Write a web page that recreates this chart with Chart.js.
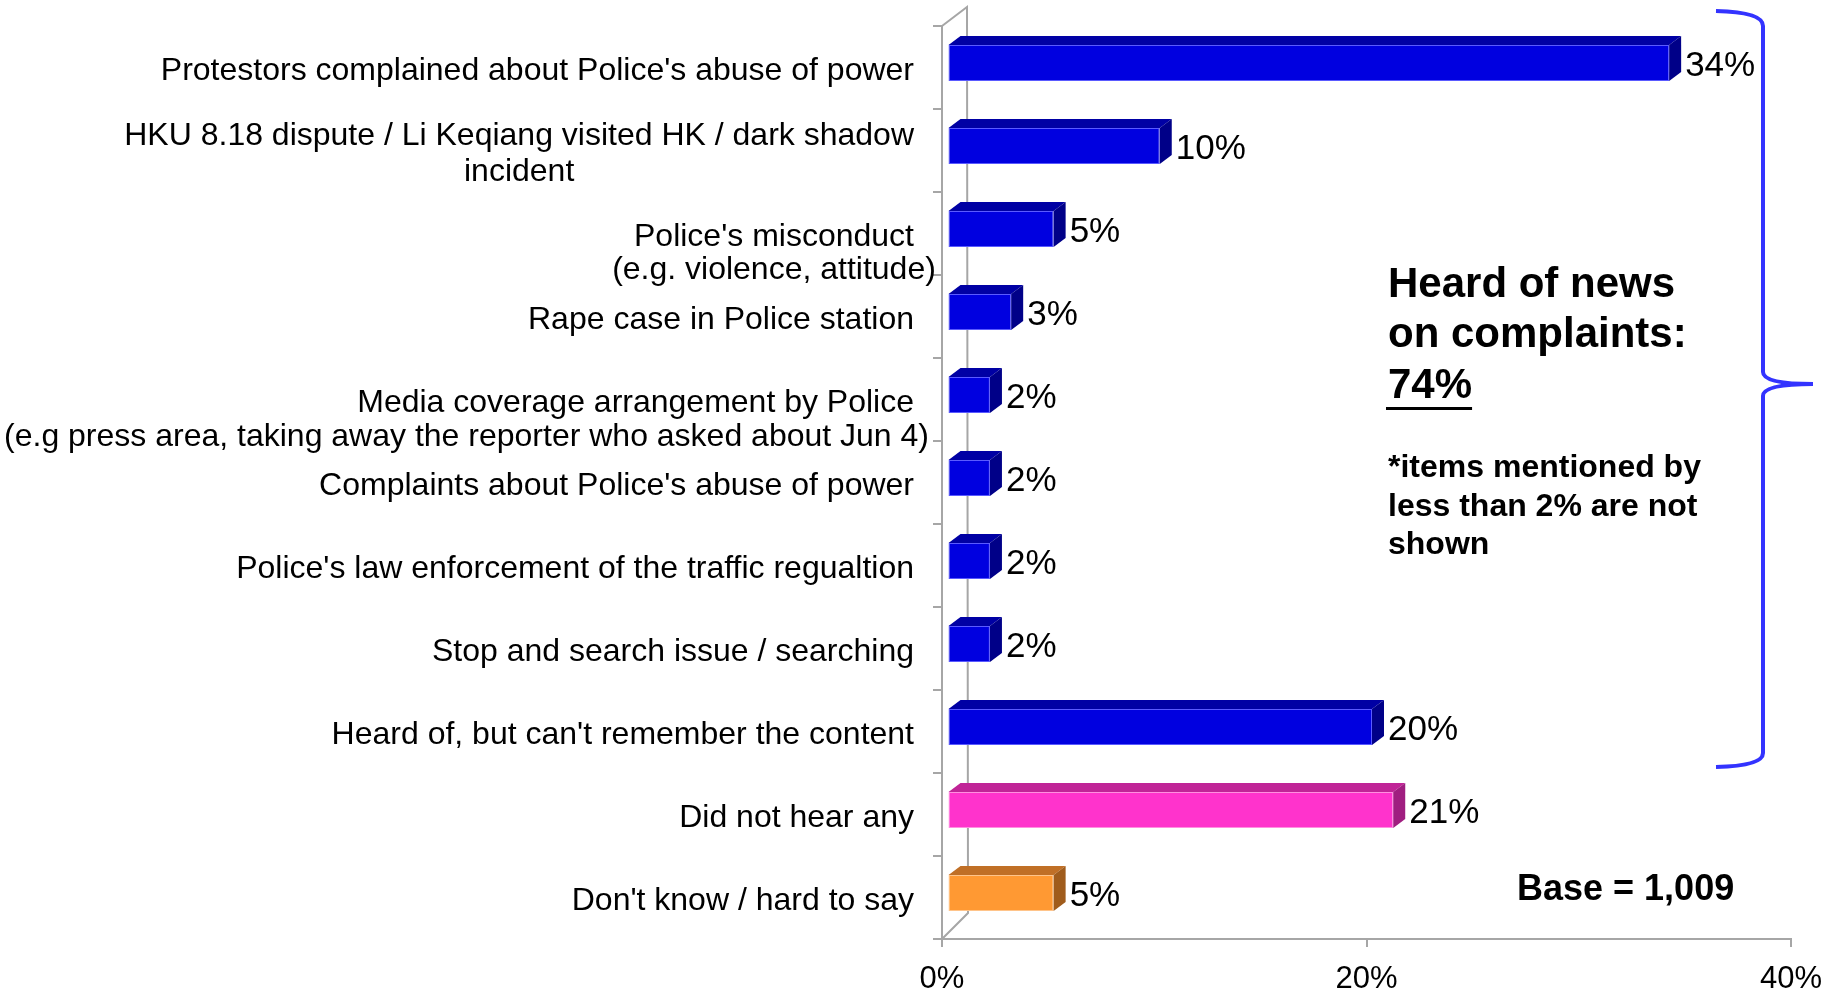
<!DOCTYPE html>
<html>
<head>
<meta charset="utf-8">
<script src="https://cdn.jsdelivr.net/npm/chart.js@4.4.1/dist/chart.umd.min.js"></script>
<style>
  html, body { margin: 0; padding: 0; background: #fff; }
  #wrap { width: 1837px; height: 991px; position: relative; }
</style>
</head>
<body>
<div id="wrap"><canvas id="canvas"></canvas></div>
<script>
const categories = [
    "Protestors complained about Police's abuse of power",
    "HKU 8.18 dispute / Li Keqiang visited HK / dark shadow",
    "Police's misconduct",
    "Rape case in Police station",
    "Media coverage arrangement by Police",
    "Complaints about Police's abuse of power",
    "Police's law enforcement of the traffic regualtion",
    "Stop and search issue / searching",
    "Heard of, but can't remember the content",
    "Did not hear any",
    "Don't know / hard to say"
];
// second lines of the long labels
const subLabels = {
    1: "incident",
    2: "(e.g. violence, attitude)",
    4: "(e.g press area, taking away the reporter who asked about Jun 4)"
};
const percentages = [34, 10, 5, 3, 2, 2, 2, 2, 20, 21, 5];
const answerGroups = ["heard", "heard", "heard", "heard", "heard", "heard", "heard", "heard", "heard", "none", "unsure"];
const xTicks = [0, 20, 40];

const summaryLines = ["Heard of news", "on complaints:"];
const summaryValue = "74%";
const footnoteLines = ["*items mentioned by", "less than 2% are not", "shown"];
const baseText = "Base = 1,009";

const family = "'Liberation Sans', Arial, Helvetica, sans-serif";
const palette = {
    heard:  {front: "#0000e0", top: "#0000a4", side: "#000088", edge: "#5a5aff"},
    none:   {front: "#ff33cc", top: "#c02497", side: "#a01e80", edge: "#ff8fe0"},
    unsure: {front: "#ff9933", top: "#c06f26", side: "#a05c1c", edge: "#ffc48a"}
};
const axisGrey = "#a6a6a6";

// 3D look: back wall depth, bar placement inside the depth, bar thickness
const wallDepth = {dx: 25, dy: -19};
const barShift = {dx: 5.5, dy: -4.5};
const barDepth = {dx: 12, dy: -9};

// layout of the two-line labels
const subLayout = {
    1: {lead: -18, gap: 36, align: "center", overhang: 0},
    2: {lead: 0, gap: 33, align: "center", overhang: 0},
    4: {lead: 0, gap: 34, align: "right", overhang: 15}
};

const frame3d = {
    id: "frame3d",
    beforeDatasetsDraw(chart) {
        const ctx = chart.ctx;
        const {left, top, bottom} = chart.chartArea;
        ctx.save();
        ctx.strokeStyle = axisGrey;
        ctx.lineWidth = 2;
        ctx.beginPath();
        ctx.moveTo(left, top);
        ctx.lineTo(left + wallDepth.dx, top + wallDepth.dy);
        ctx.lineTo(left + wallDepth.dx + 1, bottom - 26);
        ctx.lineTo(left, bottom);
        ctx.stroke();
        ctx.restore();
        // bars sit a little behind the front plane
        ctx.save();
        ctx.translate(barShift.dx, barShift.dy);
    },
    afterDatasetsDraw(chart) {
        const ctx = chart.ctx;
        const meta = chart.getDatasetMeta(0);
        meta.data.forEach((bar, i) => {
            const c = palette[answerGroups[i]];
            const x0 = bar.base, x1 = bar.x;
            const yt = bar.y - bar.height / 2, yb = bar.y + bar.height / 2;
            // top face
            ctx.fillStyle = c.top;
            ctx.beginPath();
            ctx.moveTo(x0, yt);
            ctx.lineTo(x0 + barDepth.dx, yt + barDepth.dy);
            ctx.lineTo(x1 + barDepth.dx, yt + barDepth.dy);
            ctx.lineTo(x1, yt);
            ctx.closePath();
            ctx.fill();
            // side face
            ctx.fillStyle = c.side;
            ctx.beginPath();
            ctx.moveTo(x1, yt);
            ctx.lineTo(x1 + barDepth.dx, yt + barDepth.dy);
            ctx.lineTo(x1 + barDepth.dx, yb + barDepth.dy);
            ctx.lineTo(x1, yb);
            ctx.closePath();
            ctx.fill();
        });
        ctx.restore();

        // value labels
        ctx.save();
        ctx.font = "35px " + family;
        ctx.fillStyle = "#000";
        ctx.textAlign = "left";
        ctx.textBaseline = "middle";
        meta.data.forEach((bar, i) => {
            ctx.fillText(percentages[i] + "%", bar.x + barShift.dx + barDepth.dx + 4, bar.y + barShift.dy + 3.5);
        });
        ctx.restore();
    }
};

const categoryLabels = {
    id: "categoryLabels",
    afterDraw(chart) {
        const ctx = chart.ctx;
        const yScale = chart.scales.y;
        const right = chart.chartArea.left - 28;
        ctx.save();
        ctx.font = "32px " + family;
        ctx.fillStyle = "#000";
        ctx.textBaseline = "middle";
        categories.forEach((text, i) => {
            const cy = yScale.getPixelForValue(i) + 3.5;
            const lay = subLayout[i];
            if (!lay) {
                ctx.textAlign = "right";
                ctx.fillText(text, right, cy);
                return;
            }
            const w = ctx.measureText(text).width;
            ctx.textAlign = "right";
            ctx.fillText(text, right, cy + lay.lead);
            if (lay.align === "center") {
                ctx.textAlign = "center";
                ctx.fillText(subLabels[i], right - w / 2 + lay.overhang, cy + lay.lead + lay.gap);
            } else {
                ctx.textAlign = "right";
                ctx.fillText(subLabels[i], right + lay.overhang, cy + lay.lead + lay.gap);
            }
        });
        ctx.restore();
    }
};

const annotations = {
    id: "annotations",
    afterDraw(chart) {
        const ctx = chart.ctx;
        ctx.save();
        ctx.fillStyle = "#000";
        ctx.textAlign = "left";
        ctx.textBaseline = "alphabetic";

        ctx.font = "bold 42px " + family;
        ctx.fillText(summaryLines[0], 1388, 297);
        ctx.fillText(summaryLines[1], 1388, 347);
        ctx.fillText(summaryValue, 1388, 398);
        const uw = ctx.measureText(summaryValue).width;
        ctx.fillRect(1386, 407, uw + 2, 3);

        ctx.font = "bold 32px " + family;
        footnoteLines.forEach((line, k) => ctx.fillText(line, 1388, 477 + k * 38.5));

        ctx.font = "bold 36px " + family;
        ctx.fillText(baseText, 1517, 900);

        // curly brace grouping the "heard of" answers
        ctx.strokeStyle = "#3333ff";
        ctx.lineWidth = 4;
        ctx.lineCap = "butt";
        ctx.beginPath();
        ctx.moveTo(1716, 11);
        ctx.quadraticCurveTo(1763, 12, 1763, 26);
        ctx.lineTo(1763, 372);
        ctx.quadraticCurveTo(1763, 384, 1813, 384);
        ctx.quadraticCurveTo(1763, 384, 1763, 396);
        ctx.lineTo(1763, 753);
        ctx.quadraticCurveTo(1763, 766, 1716, 767);
        ctx.stroke();
        ctx.restore();
    }
};

function dibujarGrafico() {
    const canvas = document.getElementById("canvas").getContext("2d");
    Chart.defaults.font.family = family;
    return new Chart(canvas, {
        type: "bar",
        data: {
            labels: categories,
            datasets: [{
                data: percentages,
                backgroundColor: answerGroups.map(g => palette[g].front),
                borderColor: answerGroups.map(g => palette[g].edge),
                borderWidth: 1,
                borderSkipped: false,
                categoryPercentage: 1,
                barPercentage: 0.434,
                clip: false
            }]
        },
        options: {
            indexAxis: "y",
            responsive: true,
            maintainAspectRatio: false,
            animation: false,
            devicePixelRatio: 1,
            layout: {padding: {top: 26, right: 46, left: 0, bottom: 0}},
            plugins: {
                legend: {display: false},
                tooltip: {enabled: false}
            },
            scales: {
                x: {
                    min: 0,
                    max: 40,
                    afterBuildTicks: s => { s.ticks = xTicks.map(v => ({value: v})); },
                    afterFit: s => { s.height = 52; },
                    grid: {drawOnChartArea: false, color: axisGrey, lineWidth: 2, tickLength: 8},
                    border: {color: axisGrey, width: 2},
                    ticks: {
                        color: "#000",
                        font: {size: 31},
                        padding: 14,
                        maxRotation: 0,
                        callback: v => v + "%"
                    }
                },
                y: {
                    afterFit: s => { s.width = 942; },
                    grid: {drawOnChartArea: false, color: axisGrey, lineWidth: 2, tickLength: 9, offset: true},
                    border: {color: axisGrey, width: 2},
                    ticks: {display: false}
                }
            }
        },
        plugins: [frame3d, categoryLabels, annotations]
    });
}
dibujarGrafico();
</script>
</body>
</html>
